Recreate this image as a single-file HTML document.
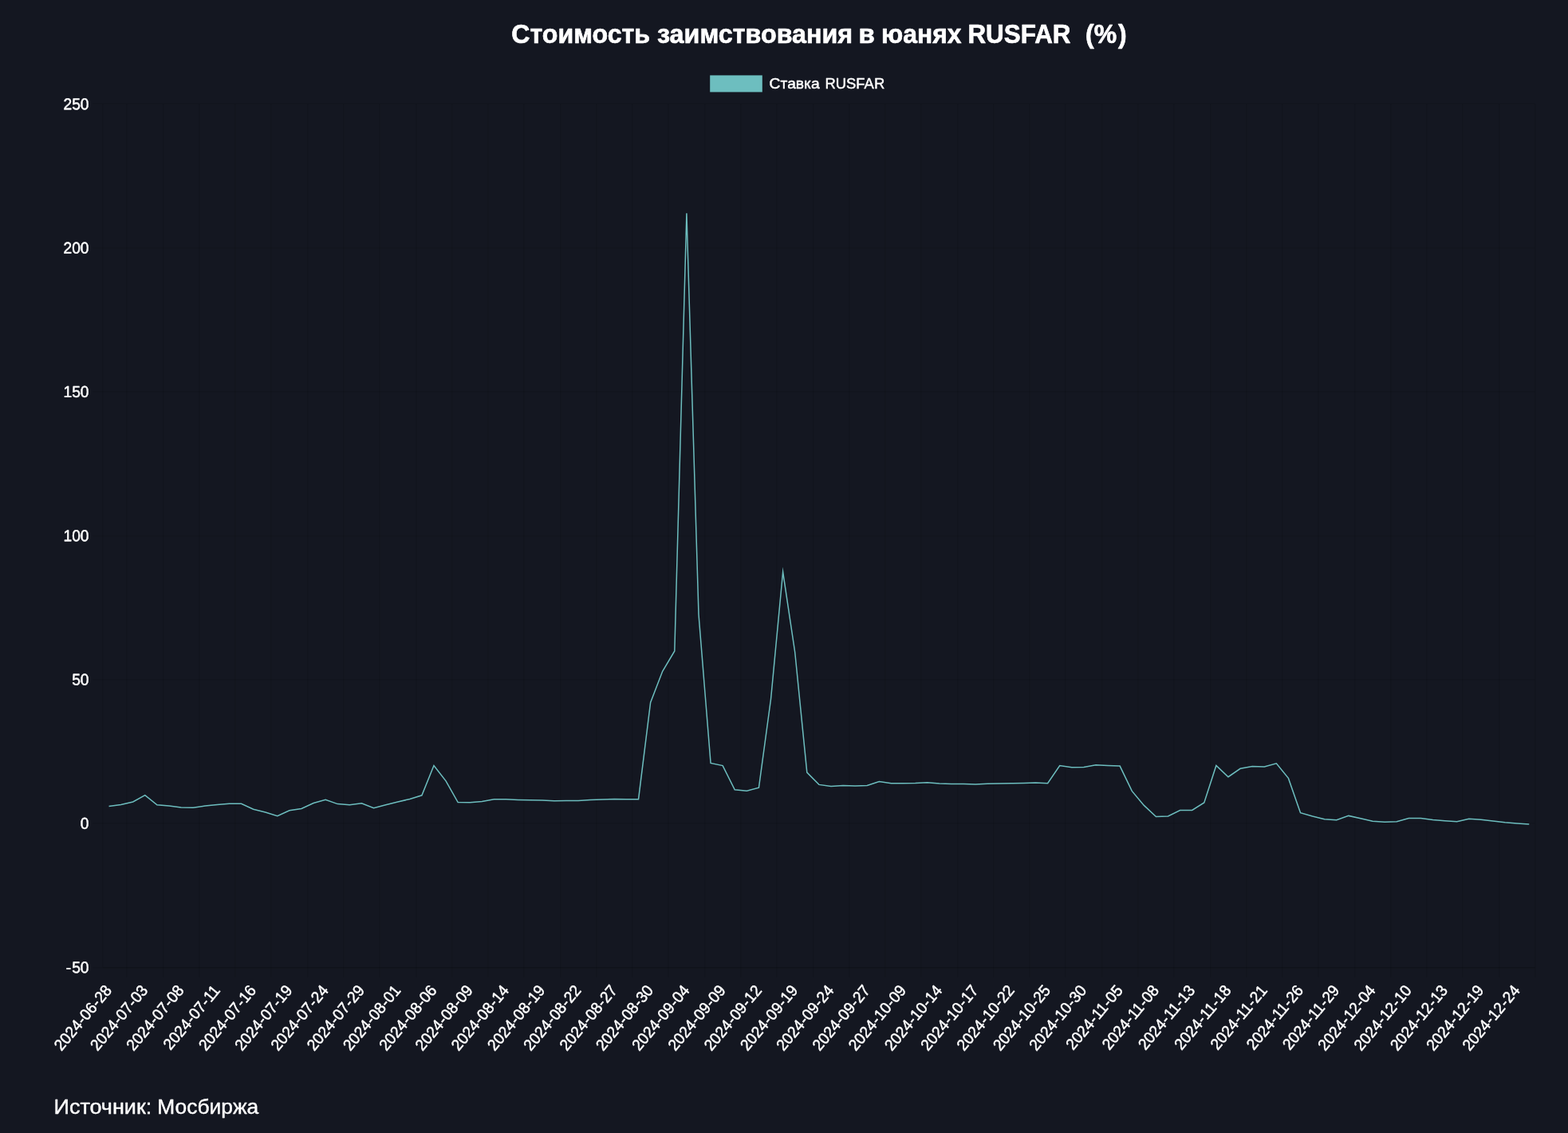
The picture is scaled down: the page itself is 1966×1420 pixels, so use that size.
<!DOCTYPE html>
<html lang="ru"><head><meta charset="utf-8"><title>Стоимость заимствования в юанях RUSFAR (%)</title>
<style>html,body{margin:0;padding:0;background:#141721;}body{width:1966px;height:1420px;overflow:hidden;}svg{display:block;font-family:"Liberation Sans",Arial,Helvetica,sans-serif;}text{fill:#ffffff;stroke:#ffffff;stroke-width:0.45px;stroke-linejoin:round;white-space:pre;}.g{stroke:rgba(0,0,0,0.07);stroke-width:1.6;fill:none;}.t{font-size:19.2px;}</style></head><body>
<svg width="1966" height="1420" viewBox="0 0 1966 1420">
<rect width="1966" height="1420" fill="#141721"/>
<g class="g">
<line x1="158.8" y1="130.3" x2="158.8" y2="1225.1"/>
<line x1="204.8" y1="130.3" x2="204.8" y2="1225.1"/>
<line x1="249.8" y1="130.3" x2="249.8" y2="1225.1"/>
<line x1="294.8" y1="130.3" x2="294.8" y2="1225.1"/>
<line x1="339.8" y1="130.3" x2="339.8" y2="1225.1"/>
<line x1="385.8" y1="130.3" x2="385.8" y2="1225.1"/>
<line x1="430.8" y1="130.3" x2="430.8" y2="1225.1"/>
<line x1="475.8" y1="130.3" x2="475.8" y2="1225.1"/>
<line x1="521.8" y1="130.3" x2="521.8" y2="1225.1"/>
<line x1="566.8" y1="130.3" x2="566.8" y2="1225.1"/>
<line x1="611.8" y1="130.3" x2="611.8" y2="1225.1"/>
<line x1="656.8" y1="130.3" x2="656.8" y2="1225.1"/>
<line x1="702.8" y1="130.3" x2="702.8" y2="1225.1"/>
<line x1="747.8" y1="130.3" x2="747.8" y2="1225.1"/>
<line x1="792.8" y1="130.3" x2="792.8" y2="1225.1"/>
<line x1="837.8" y1="130.3" x2="837.8" y2="1225.1"/>
<line x1="883.8" y1="130.3" x2="883.8" y2="1225.1"/>
<line x1="928.8" y1="130.3" x2="928.8" y2="1225.1"/>
<line x1="973.8" y1="130.3" x2="973.8" y2="1225.1"/>
<line x1="1019.8" y1="130.3" x2="1019.8" y2="1225.1"/>
<line x1="1064.8" y1="130.3" x2="1064.8" y2="1225.1"/>
<line x1="1109.8" y1="130.3" x2="1109.8" y2="1225.1"/>
<line x1="1154.8" y1="130.3" x2="1154.8" y2="1225.1"/>
<line x1="1200.8" y1="130.3" x2="1200.8" y2="1225.1"/>
<line x1="1245.8" y1="130.3" x2="1245.8" y2="1225.1"/>
<line x1="1290.8" y1="130.3" x2="1290.8" y2="1225.1"/>
<line x1="1335.8" y1="130.3" x2="1335.8" y2="1225.1"/>
<line x1="1381.8" y1="130.3" x2="1381.8" y2="1225.1"/>
<line x1="1426.8" y1="130.3" x2="1426.8" y2="1225.1"/>
<line x1="1471.8" y1="130.3" x2="1471.8" y2="1225.1"/>
<line x1="1517.8" y1="130.3" x2="1517.8" y2="1225.1"/>
<line x1="1562.8" y1="130.3" x2="1562.8" y2="1225.1"/>
<line x1="1607.8" y1="130.3" x2="1607.8" y2="1225.1"/>
<line x1="1652.8" y1="130.3" x2="1652.8" y2="1225.1"/>
<line x1="1698.8" y1="130.3" x2="1698.8" y2="1225.1"/>
<line x1="1743.8" y1="130.3" x2="1743.8" y2="1225.1"/>
<line x1="1788.8" y1="130.3" x2="1788.8" y2="1225.1"/>
<line x1="1833.8" y1="130.3" x2="1833.8" y2="1225.1"/>
<line x1="1879.8" y1="130.3" x2="1879.8" y2="1225.1"/>
<line x1="1924.8" y1="130.3" x2="1924.8" y2="1225.1"/>
<line x1="116.2" y1="1212.8" x2="1924.8" y2="1212.8"/>
<line x1="116.2" y1="1031.8" x2="1924.8" y2="1031.8"/>
<line x1="116.2" y1="851.8" x2="1924.8" y2="851.8"/>
<line x1="116.2" y1="671.8" x2="1924.8" y2="671.8"/>
<line x1="116.2" y1="490.8" x2="1924.8" y2="490.8"/>
<line x1="116.2" y1="310.8" x2="1924.8" y2="310.8"/>
<line x1="116.2" y1="129.8" x2="1924.8" y2="129.8"/>
<line x1="128.8" y1="130.3" x2="128.8" y2="1212.3"/>
<line x1="129" y1="1212.8" x2="1924.8" y2="1212.8"/>
</g>
<polyline points="136.55,1010.4 151.64,1008.4 166.73,1005 181.82,996.6 196.91,1008.8 212,1010.1 227.09,1011.9 242.18,1012.3 257.27,1010.1 272.36,1008.4 287.45,1007.2 302.54,1007.3 317.63,1014.2 332.73,1018 347.82,1022.6 362.91,1015.7 378,1013.4 393.09,1006.5 408.18,1002.2 423.27,1007.6 438.36,1008.7 453.45,1006.7 468.54,1012.8 483.63,1008.7 498.72,1004.9 513.81,1001.5 528.91,996.8 544,959.5 559.09,978.9 574.18,1005.6 589.27,1005.8 604.36,1004.6 619.45,1001.8 634.54,1001.8 649.63,1002.4 664.72,1002.7 679.81,1002.9 694.9,1003.8 709.99,1003.6 725.08,1003.4 740.18,1002.6 755.27,1001.9 770.36,1001.5 785.45,1001.7 800.54,1001.7 815.63,880.4 830.72,841.3 845.81,816 860.9,267.2 875.99,770 891.08,956.5 906.17,959.6 921.26,989.8 936.36,991.2 951.45,987.1 966.54,876 981.63,716.8 996.72,817.5 1011.81,968.1 1026.9,983.4 1041.99,985.6 1057.08,984.4 1072.17,984.9 1087.26,984.4 1102.35,979.6 1117.44,981.8 1132.54,981.8 1147.63,981.6 1162.72,980.8 1177.81,982.1 1192.9,982.6 1207.99,982.6 1223.08,983.1 1238.17,982.3 1253.26,982 1268.35,981.7 1283.44,981.4 1298.53,980.9 1313.62,981.7 1328.72,959.5 1343.81,961.8 1358.9,961.4 1373.99,958.8 1389.08,959.5 1404.17,960.1 1419.26,991.4 1434.35,1009.4 1449.44,1023.5 1464.53,1023 1479.62,1015.5 1494.71,1015.4 1509.8,1005.9 1524.89,959.4 1539.99,973.7 1555.08,963.3 1570.17,960.6 1585.26,960.9 1600.35,956.8 1615.44,975.4 1630.53,1018.7 1645.62,1022.9 1660.71,1026.7 1675.8,1027.7 1690.89,1022.4 1705.98,1025.8 1721.07,1029.3 1736.17,1030.3 1751.26,1029.7 1766.35,1025.5 1781.44,1025.5 1796.53,1027.4 1811.62,1028.7 1826.71,1029.7 1841.8,1026.3 1856.89,1027.2 1871.98,1028.9 1887.07,1030.8 1902.16,1032 1917.25,1032.9" fill="none" stroke="#6dbebf" stroke-width="1.5" stroke-linejoin="miter" stroke-miterlimit="10" stroke-linecap="butt"/>
<g class="t" text-anchor="end">
<text transform="translate(111.5 137.2) rotate(0.1) scale(1 1.04)">250</text>
<text transform="translate(111.5 317.53) rotate(0.1) scale(1 1.04)">200</text>
<text transform="translate(111.5 497.87) rotate(0.1) scale(1 1.04)">150</text>
<text transform="translate(111.5 678.2) rotate(0.1) scale(1 1.04)">100</text>
<text transform="translate(111.5 858.53) rotate(0.1) scale(1 1.04)">50</text>
<text transform="translate(111.5 1038.87) rotate(0.1) scale(1 1.04)">0</text>
<text transform="translate(111.5 1219.2) rotate(0.1) scale(1 1.04)" dx="0 1.08 0">-50</text>
</g>
<g class="t" text-anchor="end">
<text transform="translate(127.02 1229.9) rotate(-50) translate(0 18.42) scale(1 1.04)" dx="0 0 0 0 0.37 0.37 0 0.37 0.37 0">2024-06-28</text>
<text transform="translate(172.29 1229.9) rotate(-50) translate(0 18.42) scale(1 1.04)" dx="0 0 0 0 0.37 0.37 0 0.37 0.37 0">2024-07-03</text>
<text transform="translate(217.57 1229.9) rotate(-50) translate(0 18.42) scale(1 1.04)" dx="0 0 0 0 0.37 0.37 0 0.37 0.37 0">2024-07-08</text>
<text transform="translate(262.84 1229.9) rotate(-50) translate(0 18.42) scale(1 1.04)" dx="0 0 0 0 0.37 0.37 0 0.37 0.37 0">2024-07-11</text>
<text transform="translate(308.11 1229.9) rotate(-50) translate(0 18.42) scale(1 1.04)" dx="0 0 0 0 0.37 0.37 0 0.37 0.37 0">2024-07-16</text>
<text transform="translate(353.38 1229.9) rotate(-50) translate(0 18.42) scale(1 1.04)" dx="0 0 0 0 0.37 0.37 0 0.37 0.37 0">2024-07-19</text>
<text transform="translate(398.65 1229.9) rotate(-50) translate(0 18.42) scale(1 1.04)" dx="0 0 0 0 0.37 0.37 0 0.37 0.37 0">2024-07-24</text>
<text transform="translate(443.93 1229.9) rotate(-50) translate(0 18.42) scale(1 1.04)" dx="0 0 0 0 0.37 0.37 0 0.37 0.37 0">2024-07-29</text>
<text transform="translate(489.2 1229.9) rotate(-50) translate(0 18.42) scale(1 1.04)" dx="0 0 0 0 0.37 0.37 0 0.37 0.37 0">2024-08-01</text>
<text transform="translate(534.47 1229.9) rotate(-50) translate(0 18.42) scale(1 1.04)" dx="0 0 0 0 0.37 0.37 0 0.37 0.37 0">2024-08-06</text>
<text transform="translate(579.74 1229.9) rotate(-50) translate(0 18.42) scale(1 1.04)" dx="0 0 0 0 0.37 0.37 0 0.37 0.37 0">2024-08-09</text>
<text transform="translate(625.02 1229.9) rotate(-50) translate(0 18.42) scale(1 1.04)" dx="0 0 0 0 0.37 0.37 0 0.37 0.37 0">2024-08-14</text>
<text transform="translate(670.29 1229.9) rotate(-50) translate(0 18.42) scale(1 1.04)" dx="0 0 0 0 0.37 0.37 0 0.37 0.37 0">2024-08-19</text>
<text transform="translate(715.56 1229.9) rotate(-50) translate(0 18.42) scale(1 1.04)" dx="0 0 0 0 0.37 0.37 0 0.37 0.37 0">2024-08-22</text>
<text transform="translate(760.83 1229.9) rotate(-50) translate(0 18.42) scale(1 1.04)" dx="0 0 0 0 0.37 0.37 0 0.37 0.37 0">2024-08-27</text>
<text transform="translate(806.1 1229.9) rotate(-50) translate(0 18.42) scale(1 1.04)" dx="0 0 0 0 0.37 0.37 0 0.37 0.37 0">2024-08-30</text>
<text transform="translate(851.38 1229.9) rotate(-50) translate(0 18.42) scale(1 1.04)" dx="0 0 0 0 0.37 0.37 0 0.37 0.37 0">2024-09-04</text>
<text transform="translate(896.65 1229.9) rotate(-50) translate(0 18.42) scale(1 1.04)" dx="0 0 0 0 0.37 0.37 0 0.37 0.37 0">2024-09-09</text>
<text transform="translate(941.92 1229.9) rotate(-50) translate(0 18.42) scale(1 1.04)" dx="0 0 0 0 0.37 0.37 0 0.37 0.37 0">2024-09-12</text>
<text transform="translate(987.19 1229.9) rotate(-50) translate(0 18.42) scale(1 1.04)" dx="0 0 0 0 0.37 0.37 0 0.37 0.37 0">2024-09-19</text>
<text transform="translate(1032.47 1229.9) rotate(-50) translate(0 18.42) scale(1 1.04)" dx="0 0 0 0 0.37 0.37 0 0.37 0.37 0">2024-09-24</text>
<text transform="translate(1077.74 1229.9) rotate(-50) translate(0 18.42) scale(1 1.04)" dx="0 0 0 0 0.37 0.37 0 0.37 0.37 0">2024-09-27</text>
<text transform="translate(1123.01 1229.9) rotate(-50) translate(0 18.42) scale(1 1.04)" dx="0 0 0 0 0.37 0.37 0 0.37 0.37 0">2024-10-09</text>
<text transform="translate(1168.28 1229.9) rotate(-50) translate(0 18.42) scale(1 1.04)" dx="0 0 0 0 0.37 0.37 0 0.37 0.37 0">2024-10-14</text>
<text transform="translate(1213.55 1229.9) rotate(-50) translate(0 18.42) scale(1 1.04)" dx="0 0 0 0 0.37 0.37 0 0.37 0.37 0">2024-10-17</text>
<text transform="translate(1258.83 1229.9) rotate(-50) translate(0 18.42) scale(1 1.04)" dx="0 0 0 0 0.37 0.37 0 0.37 0.37 0">2024-10-22</text>
<text transform="translate(1304.1 1229.9) rotate(-50) translate(0 18.42) scale(1 1.04)" dx="0 0 0 0 0.37 0.37 0 0.37 0.37 0">2024-10-25</text>
<text transform="translate(1349.37 1229.9) rotate(-50) translate(0 18.42) scale(1 1.04)" dx="0 0 0 0 0.37 0.37 0 0.37 0.37 0">2024-10-30</text>
<text transform="translate(1394.64 1229.9) rotate(-50) translate(0 18.42) scale(1 1.04)" dx="0 0 0 0 0.37 0.37 0 0.37 0.37 0">2024-11-05</text>
<text transform="translate(1439.92 1229.9) rotate(-50) translate(0 18.42) scale(1 1.04)" dx="0 0 0 0 0.37 0.37 0 0.37 0.37 0">2024-11-08</text>
<text transform="translate(1485.19 1229.9) rotate(-50) translate(0 18.42) scale(1 1.04)" dx="0 0 0 0 0.37 0.37 0 0.37 0.37 0">2024-11-13</text>
<text transform="translate(1530.46 1229.9) rotate(-50) translate(0 18.42) scale(1 1.04)" dx="0 0 0 0 0.37 0.37 0 0.37 0.37 0">2024-11-18</text>
<text transform="translate(1575.73 1229.9) rotate(-50) translate(0 18.42) scale(1 1.04)" dx="0 0 0 0 0.37 0.37 0 0.37 0.37 0">2024-11-21</text>
<text transform="translate(1621.01 1229.9) rotate(-50) translate(0 18.42) scale(1 1.04)" dx="0 0 0 0 0.37 0.37 0 0.37 0.37 0">2024-11-26</text>
<text transform="translate(1666.28 1229.9) rotate(-50) translate(0 18.42) scale(1 1.04)" dx="0 0 0 0 0.37 0.37 0 0.37 0.37 0">2024-11-29</text>
<text transform="translate(1711.55 1229.9) rotate(-50) translate(0 18.42) scale(1 1.04)" dx="0 0 0 0 0.37 0.37 0 0.37 0.37 0">2024-12-04</text>
<text transform="translate(1756.82 1229.9) rotate(-50) translate(0 18.42) scale(1 1.04)" dx="0 0 0 0 0.37 0.37 0 0.37 0.37 0">2024-12-10</text>
<text transform="translate(1802.09 1229.9) rotate(-50) translate(0 18.42) scale(1 1.04)" dx="0 0 0 0 0.37 0.37 0 0.37 0.37 0">2024-12-13</text>
<text transform="translate(1847.37 1229.9) rotate(-50) translate(0 18.42) scale(1 1.04)" dx="0 0 0 0 0.37 0.37 0 0.37 0.37 0">2024-12-19</text>
<text transform="translate(1892.64 1229.9) rotate(-50) translate(0 18.42) scale(1 1.04)" dx="0 0 0 0 0.37 0.37 0 0.37 0.37 0">2024-12-24</text>
</g>
<text transform="translate(641 53.7) scale(1 1.02)" font-weight="bold" font-size="32px" style="stroke-width:0.65px"><tspan x="0.3" textLength="173.8" lengthAdjust="spacingAndGlyphs">Стоимость</tspan> <tspan x="183" textLength="245.2" lengthAdjust="spacingAndGlyphs">заимствования</tspan> <tspan x="435.6" textLength="20.3" lengthAdjust="spacingAndGlyphs">в</tspan> <tspan x="464.1" textLength="100.4" lengthAdjust="spacingAndGlyphs">юанях</tspan> <tspan x="572.44" textLength="129.1" lengthAdjust="spacingAndGlyphs">RUSFAR</tspan>  <tspan x="720">(</tspan><tspan dx="0.2">%</tspan><tspan dx="1.8">)</tspan></text>
<rect x="890.2" y="94.4" width="65.6" height="21" fill="#6dbebf"/>
<text transform="translate(964.6 111) scale(1 1)" font-size="19.2px"><tspan x="0" textLength="63.1" lengthAdjust="spacingAndGlyphs">Ставка</tspan> <tspan x="69.8" textLength="74.8" lengthAdjust="spacingAndGlyphs">RUSFAR</tspan></text>
<text transform="translate(67.5 1396.2) scale(1 1.03)" font-size="25.6px" style="stroke-width:0.4px"><tspan x="0" textLength="122.7" lengthAdjust="spacingAndGlyphs">Источник:</tspan> <tspan x="129.8" textLength="126.9" lengthAdjust="spacingAndGlyphs">Мосбиржа</tspan></text>
</svg></body></html>
